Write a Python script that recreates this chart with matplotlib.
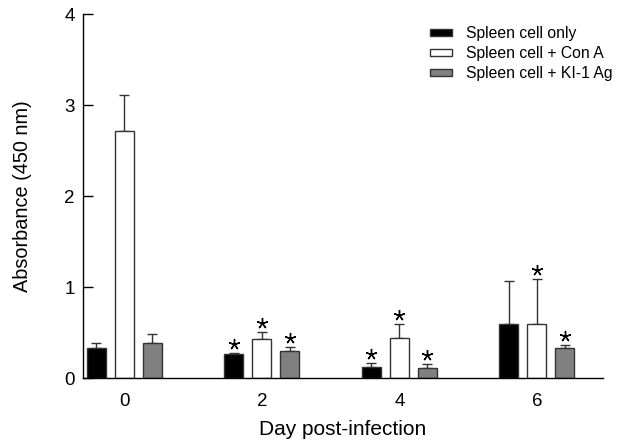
import numpy as np
import matplotlib.pyplot as plt

plt.rcParams['font.family'] = ['Liberation Sans', 'DejaVu Sans']

days = [0, 2, 4, 6]
series = ['Spleen cell only', 'Spleen cell + Con A', 'Spleen cell + KI-1 Ag']
means = {
    'Spleen cell only':      [0.33, 0.26, 0.12, 0.59],
    'Spleen cell + Con A':   [2.72, 0.43, 0.44, 0.59],
    'Spleen cell + KI-1 Ag': [0.38, 0.30, 0.11, 0.33],
}
errs = {
    'Spleen cell only':      [0.05, 0.01, 0.04, 0.48],
    'Spleen cell + Con A':   [0.39, 0.08, 0.15, 0.50],
    'Spleen cell + KI-1 Ag': [0.10, 0.04, 0.04, 0.03],
}
# significance marks (1 = asterisk)
signif = {
    'Spleen cell only':      [0, 1, 1, 0],
    'Spleen cell + Con A':   [0, 1, 1, 1],
    'Spleen cell + KI-1 Ag': [0, 1, 1, 1],
}

colors = ['black', 'white', '#808080']
offsets = [-0.407, 0, 0.407]
width = 0.276

fig = plt.figure(figsize=(6.21, 4.43), dpi=100)
ax = fig.add_axes([0.1337, 0.1467, 0.8373, 0.8216])

x = np.array(days, dtype=float)
for name, c, off in zip(series, colors, offsets):
    m = np.array(means[name])
    e = np.array(errs[name])
    ax.bar(x + off, m, width, color=c, edgecolor='#333333', linewidth=1,
           label=name, zorder=2)
    ax.errorbar(x + off, m, yerr=[np.zeros_like(e), e], fmt='none',
                ecolor='#333333', elinewidth=1, capsize=3.8, capthick=1, zorder=1)
    sx = [xi for xi, s in zip(x + off, signif[name]) if s]
    sy = [mi + ei + 0.1 for mi, ei, s in zip(m, e, signif[name]) if s]
    ax.plot(sx, sy, linestyle='none', marker=(5, 2, 0), markersize=8,
            markeredgewidth=1.0, color='black', zorder=3)

ax.set_xlim(-0.6, 6.96)
ax.set_ylim(0, 4)
ax.set_xticks(days)
ax.set_yticks([0, 1, 2, 3, 4])
ax.tick_params(axis='y', direction='in', length=7, width=1, labelsize=13.5, pad=6)
ax.tick_params(axis='x', length=0, labelsize=13.5, pad=11)
for s in ['top', 'right']:
    ax.spines[s].set_visible(False)
ax.spines['left'].set_linewidth(1)
ax.spines['bottom'].set_linewidth(1)

ax.set_xlabel('Day post-infection', fontsize=15, labelpad=7)
ax.set_ylabel('Absorbance (450 nm)', fontsize=14.3, labelpad=23)

ax.legend(loc='upper right', bbox_to_anchor=(1.045, 1.005), frameon=False,
          fontsize=11.3, handlelength=1.4, handleheight=0.3, labelspacing=0.3,
          handletextpad=0.9)

plt.savefig('out.png', dpi=100)
plt.close()
